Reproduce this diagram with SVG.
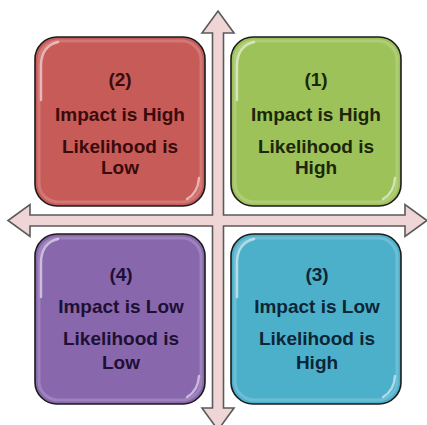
<svg xmlns="http://www.w3.org/2000/svg" width="427" height="425" viewBox="0 0 427 425">
<defs>
<style>
.box{stroke:#1c1c1c;stroke-width:1.6}
.hl{fill:none;stroke:#ffffff;stroke-opacity:0.55;stroke-width:2.5;stroke-linecap:round}
.rim{fill:none;stroke:#ffffff;stroke-opacity:0.18;stroke-width:3}
.t{font-family:"Liberation Sans",Arial,sans-serif;font-weight:bold;font-size:19px;text-anchor:middle}
.arrow{fill:#EFD5D5;stroke:#5a5a5a;stroke-width:1.6;stroke-linejoin:miter}
</style>
</defs>
<rect width="427" height="425" fill="#ffffff"/>
<g id="connectors">
<polygon class="arrow" points="218,11 234,33 223.5,33 223.5,215 405,215 405,204.5 427,220.5 405,236.5 405,226 223.5,226 223.5,408 234,408 218,430 202,408 212.5,408 212.5,226 30,226 30,236.5 8,220.5 30,204.5 30,215 212.5,215 212.5,33 202,33"/>
</g>
<g id="node2">
<rect class="box" x="35" y="37" width="170" height="169" rx="22" fill="#C75B58"/>
<rect class="rim" x="39" y="41" width="162" height="161" rx="19"/>
<path class="hl" d="M41,100 L41,66 Q41,46 58,42"/>
<path class="hl" d="M199,178 Q198,193 187,199"/>
<g class="t" fill="#3a0b0b">
<text x="120" y="86">(2)</text>
<text x="120" y="121">Impact is High</text>
<text x="120" y="153">Likelihood is</text>
<text x="120" y="174">Low</text>
</g>
</g>
<g id="node1">
<rect class="box" x="231" y="37" width="170" height="169" rx="22" fill="#9EC25A"/>
<rect class="rim" x="235" y="41" width="162" height="161" rx="19"/>
<path class="hl" d="M237,100 L237,66 Q237,46 254,42"/>
<path class="hl" d="M395,178 Q394,193 383,199"/>
<g class="t" fill="#1b2708">
<text x="316" y="86">(1)</text>
<text x="316" y="121">Impact is High</text>
<text x="316" y="153">Likelihood is</text>
<text x="316" y="174">High</text>
</g>
</g>
<g id="node4">
<rect class="box" x="35" y="234" width="170" height="170" rx="22" fill="#8867AD"/>
<rect class="rim" x="39" y="238" width="162" height="162" rx="19"/>
<path class="hl" d="M41,297 L41,263 Q41,243 58,239"/>
<path class="hl" d="M199,376 Q198,391 187,397"/>
<g class="t" fill="#1e1034">
<text x="121" y="281">(4)</text>
<text x="121" y="313">Impact is Low</text>
<text x="121" y="345">Likelihood is</text>
<text x="121" y="369">Low</text>
</g>
</g>
<g id="node3">
<rect class="box" x="231" y="234" width="170" height="170" rx="22" fill="#4DB0CB"/>
<rect class="rim" x="235" y="238" width="162" height="162" rx="19"/>
<path class="hl" d="M237,297 L237,263 Q237,243 254,239"/>
<path class="hl" d="M395,376 Q394,391 383,397"/>
<g class="t" fill="#0c2636">
<text x="317" y="281">(3)</text>
<text x="317" y="313">Impact is Low</text>
<text x="317" y="345">Likelihood is</text>
<text x="317" y="369">High</text>
</g>
</g>
</svg>
